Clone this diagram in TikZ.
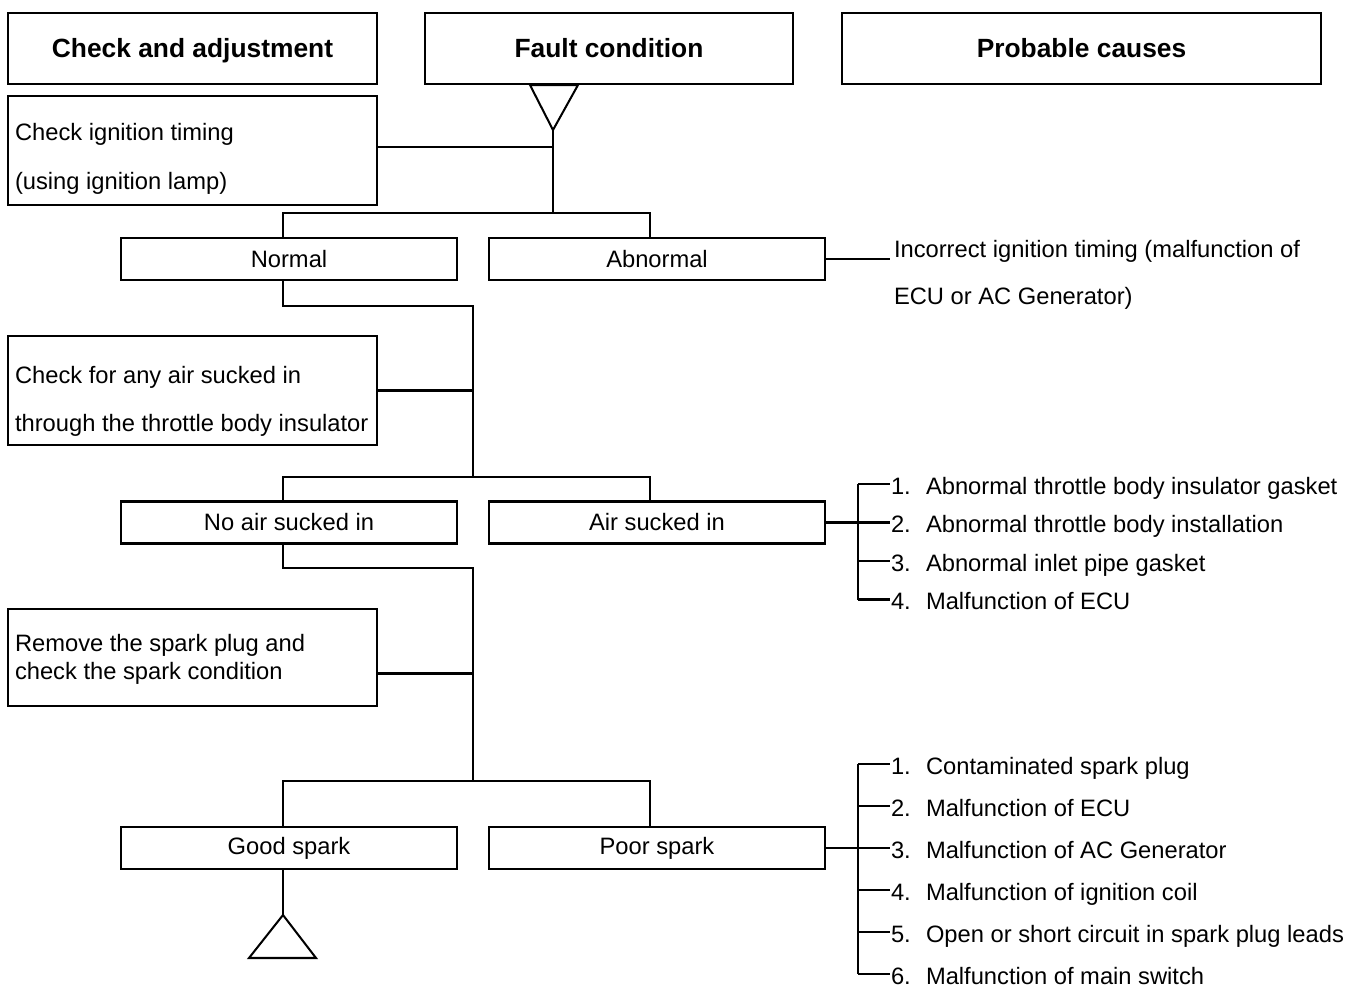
\documentclass[tikz,border=0pt]{standalone}
\usepackage{fontspec}
\setmainfont{Liberation Sans}
\newlength{\pxl}\setlength{\pxl}{0.02cm}

\begin{document}
\begin{tikzpicture}[x=0.02cm,y=-0.02cm,line width=1.15pt,
  every node/.style={font=\fontsize{13.5}{16}\selectfont},
  headbox/.style={draw,minimum height=71\pxl,text height=12.8pt,text depth=2pt,
    font=\fontsize{15}{18}\selectfont\bfseries},
  stepbox/.style={draw,minimum width=369\pxl},
  steptext/.style={anchor=west,align=left,inner sep=0pt},
  resbox/.style={draw,minimum width=336\pxl,minimum height=42\pxl},
  cause/.style={anchor=west,inner sep=0pt,text height=10pt,text depth=3pt}]
\useasboundingbox (0,0) rectangle (1349,990);

\node[headbox,minimum width=369\pxl] (hdA) at (192.5,48.5) {Check and adjustment};
\node[headbox,minimum width=368\pxl] (hdB) at (609,48.5) {Fault condition};
\node[headbox,minimum width=479\pxl] (hdC) at (1081.5,48.5) {Probable causes};

\coordinate (tv) at (553,130);
\coordinate (j1) at (553,213);
\draw (530,85) -- (578,85) -- (tv) -- cycle;
\draw (tv) -- (j1);
\node[stepbox,minimum height=109\pxl] (ign) at (192.5,150.5) {};
\node[steptext] (ignT) at (14,159) {Check ignition timing\\[11.8pt](using ignition lamp)};
\draw ([yshift=3.5\pxl]ign.east) -- ([yshift=3.5\pxl]ign.east -| tv);

\node[resbox] (nor) at (289,259) {Normal};
\node[resbox] (abn) at (657,259) {Abnormal};
\draw ([xshift=-6\pxl]nor.north) |- (j1) -| ([xshift=-7\pxl]abn.north);
\node[steptext] (inc) at (893,275) {Incorrect ignition timing (malfunction of\\[10.5pt]ECU or AC Generator)};
\draw (abn.east) -- ([xshift=-3\pxl]abn.east -| inc.west);

\coordinate (j2) at (473,477);
\draw ([xshift=-6\pxl]nor.south) -- ++(0,25) -| (j2);
\node[stepbox,minimum height=109\pxl] (air) at (192.5,390.5) {};
\node[steptext] (airT) at (14,401) {Check for any air sucked in\\[11.2pt]through the throttle body insulator};
\draw (air.east) -- (air.east -| j2);

\node[resbox] (noa) at (289,522.5) {No air sucked in};
\node[resbox] (yes) at (657,522.5) {Air sucked in};
\draw ([xshift=-6\pxl]noa.north) |- (j2) -| ([xshift=-7\pxl]yes.north);

\foreach \t [count=\k] in {Abnormal throttle body insulator gasket,
    Abnormal throttle body installation, Abnormal inlet pipe gasket,
    Malfunction of ECU}{
  \coordinate (ta\k) at (858,445.5+38.5*\k);
  \node[cause] (ca\k) at (890,449.5+38.5*\k) {\makebox[35\pxl][l]{\k.}\t};
  \draw (ta\k) -- (ta\k -| ca\k.west);
}
\draw (ta1) -- (ta4);
\draw (yes.east) -- (yes.east -| ta1);

\coordinate (j3) at (473,781);
\draw ([xshift=-6\pxl]noa.south) -- ++(0,23) -| (j3);
\node[stepbox,minimum height=97\pxl] (rem) at (192.5,657.5) {};
\node[steptext] (remT) at (14,659) {Remove the spark plug and\\check the spark condition};
\draw ([yshift=-16\pxl]rem.east) -- ([yshift=-16\pxl]rem.east -| j3);

\node[resbox] (good) at (289,848) {Good spark};
\node[resbox] (poor) at (657,848) {Poor spark};
\draw ([xshift=-6\pxl]good.north) |- (j3) -| ([xshift=-7\pxl]poor.north);

\foreach \t [count=\k] in {Contaminated spark plug, Malfunction of ECU,
    Malfunction of AC Generator, Malfunction of ignition coil,
    Open or short circuit in spark plug leads, Malfunction of main switch}{
  \coordinate (tb\k) at (858,722+42*\k);
  \node[cause] (cb\k) at (890,726+42*\k) {\makebox[35\pxl][l]{\k.}\t};
  \draw (tb\k) -- (tb\k -| cb\k.west);
}
\draw (tb1) -- (tb6);
\draw (poor.east) -- (poor.east -| tb1);

\coordinate (tg) at (283,915);
\draw ([xshift=-6\pxl]good.south) -- (tg);
\draw (tg) -- (316,958) -- (249,958) -- cycle;
\end{tikzpicture}
\end{document}
